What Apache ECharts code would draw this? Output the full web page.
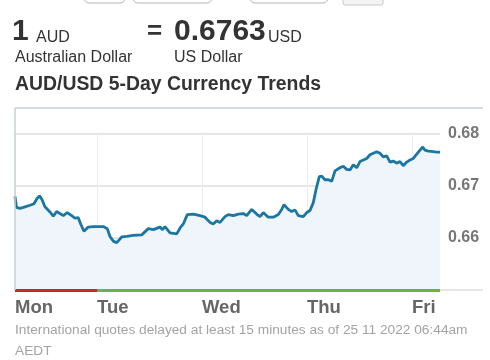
<!DOCTYPE html>
<html>
<head>
<meta charset="utf-8">
<script src="https://cdn.jsdelivr.net/npm/echarts@6/dist/echarts.min.js"></script>
<style>
html,body{margin:0;padding:0;background:#fff;}
#c{width:490px;height:360px;}
</style>
</head>
<body>
<div id="c"></div>
<script>
// Hours since Monday 00:00 (AEDT) for each quote
var hours = [5.26,5.60,6.40,7.54,8.69,9.60,10.29,10.86,11.43,12.11,13.26,14.01,14.79,15.54,16.30,17.21,18.22,18.97,19.73,20.27,21.03,22.01,23.15,
24.30,25.44,26.35,26.97,27.73,28.50,29.65,30.79,32.23,34.22,35.73,36.87,38.40,38.97,39.54,40.69,42.22,43.13,43.73,44.64,46.01,47.54,
48.69,49.83,50.58,51.36,52.11,53.26,54.01,55.15,56.30,57.44,58.22,59.36,60.50,61.26,62.01,63.15,64.30,65.44,66.22,66.74,67.73,68.50,69.26,70.01,71.15,71.93,
72.69,73.44,74.06,74.81,75.36,76.11,76.87,77.65,78.40,79.54,80.30,81.07,81.83,82.58,83.36,84.11,84.87,85.65,86.40,87.15,87.93,88.69,89.44,90.22,90.97,91.73,92.50,93.26,94.01,94.79,95.54,
96.30,96.69,97.44,98.45,98.97,99.73,100.87,101.65,102.40];
// AUD/USD rate
var rates = [0.6680,0.6659,0.6657,0.6660,0.6663,0.6666,0.6676,0.6681,0.6674,0.6660,0.6650,0.6642,0.6651,0.6647,0.6643,0.6649,0.6643,0.6638,0.6639,0.6627,0.6613,0.6621,0.6622,
0.6622,0.6622,0.6618,0.6603,0.6594,0.6591,0.6602,0.6603,0.6605,0.6606,0.6618,0.6616,0.6621,0.6616,0.6622,0.6610,0.6608,0.6621,0.6627,0.6645,0.6646,0.6643,
0.6640,0.6630,0.6627,0.6633,0.6630,0.6641,0.6645,0.6643,0.6646,0.6647,0.6643,0.6655,0.6646,0.6641,0.6649,0.6640,0.6640,0.6645,0.6655,0.6664,0.6655,0.6651,0.6654,0.6643,0.6641,0.6649,
0.6653,0.6668,0.6693,0.6718,0.6719,0.6712,0.6712,0.6709,0.6729,0.6735,0.6738,0.6732,0.6731,0.6741,0.6735,0.6747,0.6750,0.6753,0.6760,0.6763,0.6766,0.6763,0.6756,0.6758,0.6746,0.6748,0.6744,0.6747,0.6739,0.6746,0.6750,
0.6753,0.6756,0.6765,0.6775,0.6769,0.6767,0.6766,0.6765,0.6765];
var dayLabels = ['Mon','Tue','Wed','Thu','Fri'];
var dayTicks = [5.26,24,48,72,96];
var yTicks = [0.66,0.67,0.68];
// change colour per day segment (Mon down, rest up)
var daySegments = [[5.26,24,'#c3282f'],[24,102.40,'#6cb245']];

var chart = echarts.init(document.getElementById('c'), null, {renderer:'canvas'});
var FONT = 'Liberation Sans, Arial, sans-serif';
var pts = hours.map(function(h,i){return [h,rates[i]];});

var option = {
  animation:false,
  backgroundColor:'#fff',
  grid:{left:15,right:50,top:134,bottom:70},
  xAxis:{
    type:'value',
    min:hours[0], max:hours[hours.length-1],
    axisLine:{show:true,lineStyle:{color:'#cccccc',width:1}},
    axisTick:{show:false,customValues:dayTicks},
    splitLine:{show:true,lineStyle:{color:'#ececec',width:1}},
    axisLabel:{
      customValues:dayTicks,
      align:'left', verticalAlign:'middle', margin:18,
      fontFamily:FONT, fontSize:18.5, fontWeight:'bold', color:'#666',
      formatter:function(v){ return dayLabels[Math.min(4,Math.floor(v/24))]; }
    }
  },
  yAxis:{
    type:'value', position:'right',
    min:0.65, max:0.68, interval:0.01,
    axisLine:{show:false}, axisTick:{show:false},
    splitLine:{show:true,lineStyle:{color:'#dddddd',width:1.5}},
    axisLabel:{
      customValues:yTicks,
      margin:8, fontFamily:FONT, fontSize:16, fontWeight:'bold', color:'#777',
      formatter:function(v){ return v < 0.655 ? '' : v.toFixed(2); }
    }
  },
  series:[{
    type:'line', data:pts, symbol:'none', smooth:false,
    lineStyle:{color:'#1a76a3',width:2.8},
    areaStyle:{color:'#eff5fa',opacity:1},
    markLine:{
      silent:true, symbol:['none','none'], label:{show:false},
      lineStyle:{type:'solid',width:3},
      data: daySegments.map(function(s){
        return [{coord:[s[0],0.65],lineStyle:{color:s[2],width:3,type:'solid'}},{coord:[s[1],0.65]}];
      })
    }
  }],
  graphic:[
    {type:'rect',shape:{x:84,y:-20,width:41,height:23,r:5},style:{fill:'#fff',stroke:'#b5b5b5',lineWidth:1}},
    {type:'rect',shape:{x:133,y:-20,width:79,height:23,r:5},style:{fill:'#fff',stroke:'#b5b5b5',lineWidth:1}},
    {type:'rect',shape:{x:250,y:-20,width:78,height:23,r:5},style:{fill:'#fff',stroke:'#b5b5b5',lineWidth:1}},
    {type:'rect',shape:{x:343,y:-20,width:40,height:25,r:2},style:{fill:'#f3f3f3',stroke:'#c8c8c8',lineWidth:1}},
    {type:'text',x:12,y:32,style:{text:'1',font:'bold 30px '+FONT,fill:'#333',verticalAlign:'middle'}},
    {type:'text',x:36,y:37.5,style:{text:'AUD',font:'16px '+FONT,fill:'#333',verticalAlign:'middle'}},
    {type:'text',x:15,y:57.5,style:{text:'Australian Dollar',font:'16px '+FONT,fill:'#333',verticalAlign:'middle'}},
    {type:'text',x:147,y:32,style:{text:'=',font:'bold 26px '+FONT,fill:'#333',verticalAlign:'middle'}},
    {type:'text',x:174,y:32,style:{text:'0.6763',font:'bold 30px '+FONT,fill:'#333',verticalAlign:'middle'}},
    {type:'text',x:268,y:37.5,style:{text:'USD',font:'16px '+FONT,fill:'#333',verticalAlign:'middle'}},
    {type:'text',x:174,y:57.5,style:{text:'US Dollar',font:'16px '+FONT,fill:'#333',verticalAlign:'middle'}},
    {type:'text',x:15,y:84.5,style:{text:'AUD/USD 5-Day Currency Trends',font:'bold 19.4px '+FONT,fill:'#333',verticalAlign:'middle'}},
    {type:'line',shape:{x1:15,y1:108,x2:483,y2:108},style:{stroke:'#c6d0d4',lineWidth:1.5}},
    {type:'line',shape:{x1:15,y1:108,x2:15,y2:290},style:{stroke:'#c6d0d4',lineWidth:1.5},z:10},
    {type:'line',shape:{x1:440,y1:290,x2:483,y2:290},style:{stroke:'#cccccc',lineWidth:1}},
    {type:'text',x:15,y:330,style:{text:'International quotes delayed at least 15 minutes as of 25 11 2022 06:44am',font:'13.7px '+FONT,fill:'#a3a3a3',verticalAlign:'middle'}},
    {type:'text',x:15,y:351,style:{text:'AEDT',font:'13.7px '+FONT,fill:'#a3a3a3',verticalAlign:'middle'}}
  ]
};
chart.setOption(option);
</script>
</body>
</html>
